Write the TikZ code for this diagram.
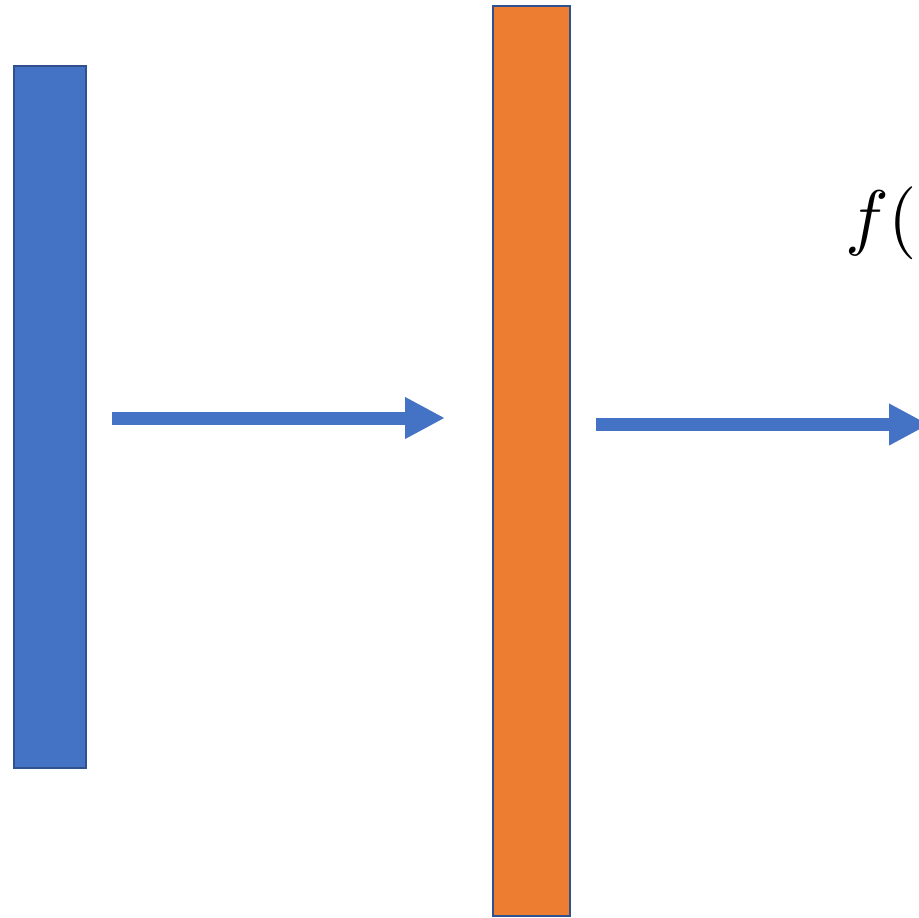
\documentclass[tikz,border=0pt]{standalone}
\usetikzlibrary{arrows.meta}
\definecolor{barblue}{HTML}{4472C4}
\definecolor{barorange}{HTML}{ED7D31}
\definecolor{edgeblue}{HTML}{2F528F}
\begin{document}
\begin{tikzpicture}[x=1pt,y=-1pt,
  bar/.style={draw=edgeblue,line width=2pt,inner sep=0pt,outer sep=0pt,rectangle},
  flow/.style={draw=barblue,line width=13pt,-{Triangle[length=40pt,width=39pt]}}]
\useasboundingbox (0,0) rectangle (919,918);
\clip (0,0) rectangle (919,918);
\node[bar,fill=barblue,minimum width=72pt,minimum height=702pt] (inbar) at (49.8,417) {};
\node[bar,fill=barorange,minimum width=77pt,minimum height=910pt] (midbar) at (531.2,460.7) {};
\coordinate (a1s) at (112,418);
\coordinate (a1e) at (445,418);
\coordinate (a2s) at (596,424.5);
\coordinate (a2e) at (929,424.5);
\draw[flow] (a1s) -- (a1e);
\draw[flow] (a2s) -- (a2e);
\node[anchor=base west,inner sep=0pt] (fx) at (845,241) {\scalebox{7.3}{$f($}};
\end{tikzpicture}
\end{document}
